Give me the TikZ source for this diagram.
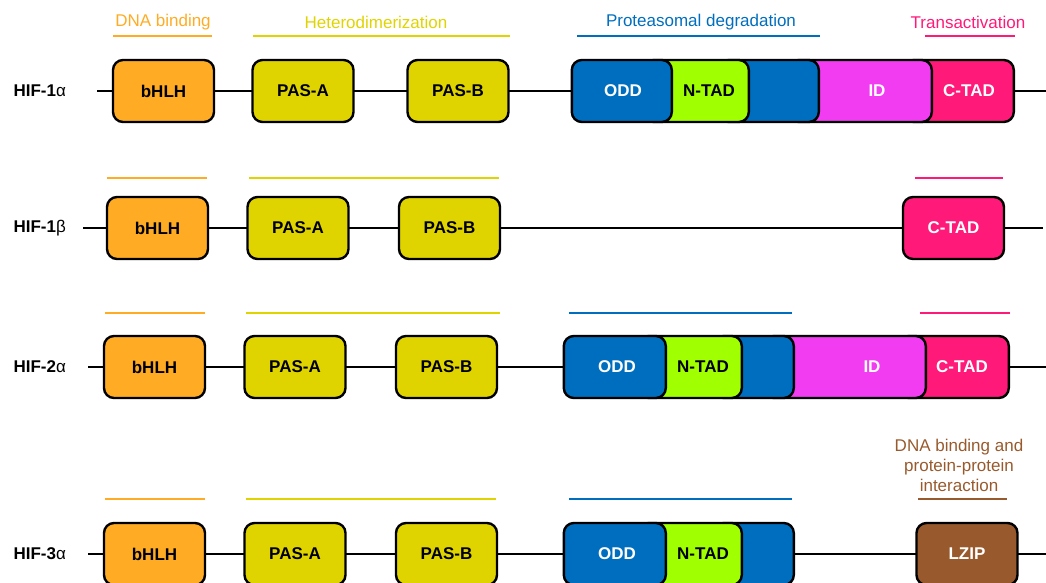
\documentclass[tikz,border=0pt]{standalone}
\usepackage{fontspec}
\setmainfont{Liberation Sans}
\usetikzlibrary{positioning}

\definecolor{bhlhorange}{RGB}{255,172,36}
\definecolor{pasyellow}{RGB}{224,212,0}
\definecolor{oddblue}{RGB}{0,110,190}
\definecolor{ntadgreen}{RGB}{160,255,0}
\definecolor{idmagenta}{RGB}{242,60,242}
\definecolor{ctadpink}{RGB}{255,25,120}
\definecolor{lzipbrown}{RGB}{152,90,45}

\begin{document}
\begin{tikzpicture}[x=1pt, y=-1pt,
    font=\fontsize{17}{20}\selectfont,
    dombox/.style={draw, line width=2.4pt, rounded corners=10pt, minimum width=101pt, minimum height=62pt, font=\fontsize{17}{20}\selectfont\bfseries},
    segbox/.style={draw, line width=2.4pt, rounded corners=10pt, minimum height=62pt, anchor=east},
    segtext/.style={font=\fontsize{17}{20}\selectfont\bfseries},
    protein/.style={font=\fontsize{17}{20}\selectfont\bfseries, anchor=west},
    backbone/.style={line width=2.4pt},
    band/.style={line width=2.6pt, #1},
    region/.style={font=\fontsize{17}{20}\selectfont, #1}
  ]
    \useasboundingbox (0,0) rectangle (1046,583);

    % HIF-1 alpha
    \node[protein] (hif1a) at (10,91) {HIF-1{\mdseries α}};
    \coordinate (s1) at (97,91);
    \coordinate (e1) at (1046,91);
    \draw[backbone] (s1) -- (e1);
    \node[dombox, fill=bhlhorange] (bhlh1) at (163.5,91) {bHLH};
    \node[dombox, fill=pasyellow] (pasa1) at (303,91) {PAS-A};
    \node[dombox, fill=pasyellow] (pasb1) at (458,91) {PAS-B};
    \node[segbox, fill=ctadpink, minimum width=110pt] (ctad1) at (1015,91) {};
    \node[segbox, fill=idmagenta, minimum width=143pt] (id1) at (933,91) {};
    \node[segbox, fill=oddblue, minimum width=100pt] (blue1) at (820,91) {};
    \node[segbox, fill=ntadgreen, minimum width=105pt] (ntad1) at (750,91) {};
    \node[segbox, fill=oddblue, minimum width=100pt] (odd1) at (673,91) {};
    \node[segtext, white] (odd1t) at (623,91) {ODD};
    \node[segtext] (ntad1t) at (709,91) {N-TAD};
    \node[segtext, white] (id1t) at (877,91) {ID};
    \node[segtext, white] (ctad1t) at (969,91) {C-TAD};
    \node[region=bhlhorange] (dna1) at (163,22) {DNA binding};
    \node[region=pasyellow] (het1) at (376,22) {Heterodimerization};
    \node[region=oddblue] (prot1) at (701,22) {Proteasomal degradation};
    \node[region=ctadpink] (trans1) at (968,22) {Transactivation};
    \draw[band=bhlhorange] (113,36) -- (212,36);
    \draw[band=pasyellow] (253,36) -- (510,36);
    \draw[band=oddblue] (577,36) -- (820,36);
    \draw[band=ctadpink] (925,36) -- (1015,36);

    % HIF-1 beta
    \node[protein] (hif1b) at (10,228) {HIF-1{\mdseries β}};
    \coordinate (s2) at (83,228);
    \coordinate (e2) at (1043,228);
    \draw[backbone] (s2) -- (e2);
    \node[dombox, fill=bhlhorange] (bhlh2) at (157.5,228) {bHLH};
    \node[dombox, fill=pasyellow] (pasa2) at (298,228) {PAS-A};
    \node[dombox, fill=pasyellow] (pasb2) at (449.5,228) {PAS-B};
    \node[dombox, fill=ctadpink, text=white] (ctad2) at (953.5,228) {C-TAD};
    \draw[band=bhlhorange] (107,178) -- (207,178);
    \draw[band=pasyellow] (249,178) -- (499,178);
    \draw[band=ctadpink] (915,178) -- (1003,178);

    % HIF-2 alpha
    \node[protein] (hif2a) at (10,367) {HIF-2{\mdseries α}};
    \coordinate (s3) at (88,367);
    \coordinate (e3) at (1046,367);
    \draw[backbone] (s3) -- (e3);
    \node[dombox, fill=bhlhorange] (bhlh3) at (154.5,367) {bHLH};
    \node[dombox, fill=pasyellow] (pasa3) at (295,367) {PAS-A};
    \node[dombox, fill=pasyellow] (pasb3) at (446.5,367) {PAS-B};
    \node[segbox, fill=ctadpink, minimum width=110pt] (ctad3) at (1010,367) {};
    \node[segbox, fill=idmagenta, minimum width=162pt] (id3) at (927,367) {};
    \node[segbox, fill=oddblue, minimum width=80pt] (blue3) at (795,367) {};
    \node[segbox, fill=ntadgreen, minimum width=103pt] (ntad3) at (743,367) {};
    \node[segbox, fill=oddblue, minimum width=102pt] (odd3) at (667,367) {};
    \node[segtext, white] (odd3t) at (617,367) {ODD};
    \node[segtext] (ntad3t) at (703,367) {N-TAD};
    \node[segtext, white] (id3t) at (872,367) {ID};
    \node[segtext, white] (ctad3t) at (962,367) {C-TAD};
    \draw[band=bhlhorange] (105,313) -- (205,313);
    \draw[band=pasyellow] (246,313) -- (500,313);
    \draw[band=oddblue] (569,313) -- (792,313);
    \draw[band=ctadpink] (920,313) -- (1010,313);

    % HIF-3 alpha
    \node[protein] (hif3a) at (10,554) {HIF-3{\mdseries α}};
    \coordinate (s4) at (88,554);
    \coordinate (e4) at (1046,554);
    \draw[backbone] (s4) -- (e4);
    \node[dombox, fill=bhlhorange] (bhlh4) at (154.5,554) {bHLH};
    \node[dombox, fill=pasyellow] (pasa4) at (295,554) {PAS-A};
    \node[dombox, fill=pasyellow] (pasb4) at (446.5,554) {PAS-B};
    \node[segbox, fill=oddblue, minimum width=80pt] (blue4) at (795,554) {};
    \node[segbox, fill=ntadgreen, minimum width=103pt] (ntad4) at (743,554) {};
    \node[segbox, fill=oddblue, minimum width=102pt] (odd4) at (667,554) {};
    \node[segtext, white] (odd4t) at (617,554) {ODD};
    \node[segtext] (ntad4t) at (703,554) {N-TAD};
    \node[dombox, fill=lzipbrown, text=white] (lzip4) at (967,554) {LZIP};
    \node[region=lzipbrown, align=center] (dnaprot4) at (959,465) {DNA binding and\\protein-protein\\interaction};
    \draw[band=bhlhorange] (105,499) -- (205,499);
    \draw[band=pasyellow] (246,499) -- (496,499);
    \draw[band=oddblue] (569,499) -- (792,499);
    \draw[band=lzipbrown] (918,499) -- (1007,499);
  \end{tikzpicture}
\end{document}
